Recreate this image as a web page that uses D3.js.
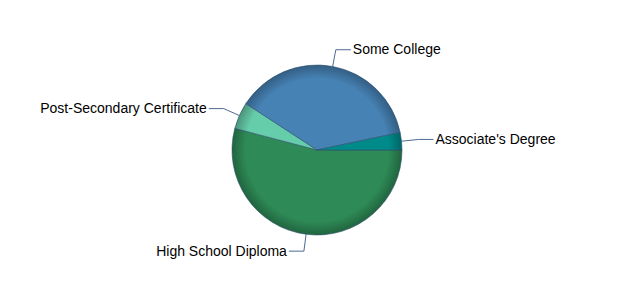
<!DOCTYPE html>
<html>
<head>
<meta charset="utf-8">
<script src="https://cdn.jsdelivr.net/npm/d3@7"></script>
<style>
  body { margin: 0; background: #fff; }
  text { font-family: "Liberation Sans", Arial, sans-serif; }
</style>
</head>
<body>
<div id="chart"></div>
<script>
// data (percent shares)
var categories = ["High School Diploma", "Post-Secondary Certificate", "Some College", "Associate's Degree"];
var values = [54.1, 5.1, 37.5, 3.3];
var colors = ["#2E8B57", "#66CDAA", "#4682B4", "#008B8B"];

var width = 635, height = 300;
var cx = 317, cy = 150, radius = 85;

var svg = d3.select("#chart")
  .append("svg")
    .attr("width", width)
    .attr("height", height);

var defs = svg.append("defs");
colors.forEach(function(c, i) {
  var g = defs.append("radialGradient")
    .attr("id", "grad" + i)
    .attr("gradientUnits", "userSpaceOnUse")
    .attr("cx", 0).attr("cy", 0).attr("r", radius);
  g.append("stop").attr("offset", "0%").attr("stop-color", c);
  g.append("stop").attr("offset", "84%").attr("stop-color", c);
  g.append("stop").attr("offset", "100%").attr("stop-color", d3.rgb(c).darker(0.9));
});

var pie = d3.pie()
  .sort(null)
  .startAngle(Math.PI / 2)
  .endAngle(Math.PI / 2 + 2 * Math.PI)
  .value(function(d) { return d; });

var arcs = pie(values);

var arc = d3.arc().innerRadius(0).outerRadius(radius);

var g = svg.append("g")
  .attr("transform", "translate(" + cx + "," + cy + ")");

g.selectAll("path.slice")
  .data(arcs)
  .enter()
  .append("path")
    .attr("class", "slice")
    .attr("d", arc)
    .attr("fill", function(d, i) { return "url(#grad" + i + ")"; })
    .attr("stroke", "#2f4f6f")
    .attr("stroke-width", 0.6)
    .attr("stroke-linejoin", "round");

// labels with elbow connectors
function pt(a, r) { return [r * Math.sin(a), -r * Math.cos(a)]; }

arcs.forEach(function(d, i) {
  var mid = (d.startAngle + d.endAngle) / 2;
  var p0 = pt(mid, radius);
  var p1 = pt(mid, radius + 17);
  var right = Math.sin(mid) > 0;
  var p2 = [p1[0] + (right ? 15 : -15), p1[1]];
  g.append("path")
    .attr("d", "M" + p0 + "L" + p1 + "L" + p2)
    .attr("fill", "none")
    .attr("stroke", "#4d6a92")
    .attr("stroke-width", 1);
  g.append("text")
    .attr("x", p2[0] + (right ? 2 : -2))
    .attr("y", p2[1])
    .attr("dy", "0.32em")
    .attr("text-anchor", right ? "start" : "end")
    .style("font-size", "14px")
    .style("fill", "#000")
    .text(categories[i]);
});
</script>
</body>
</html>
